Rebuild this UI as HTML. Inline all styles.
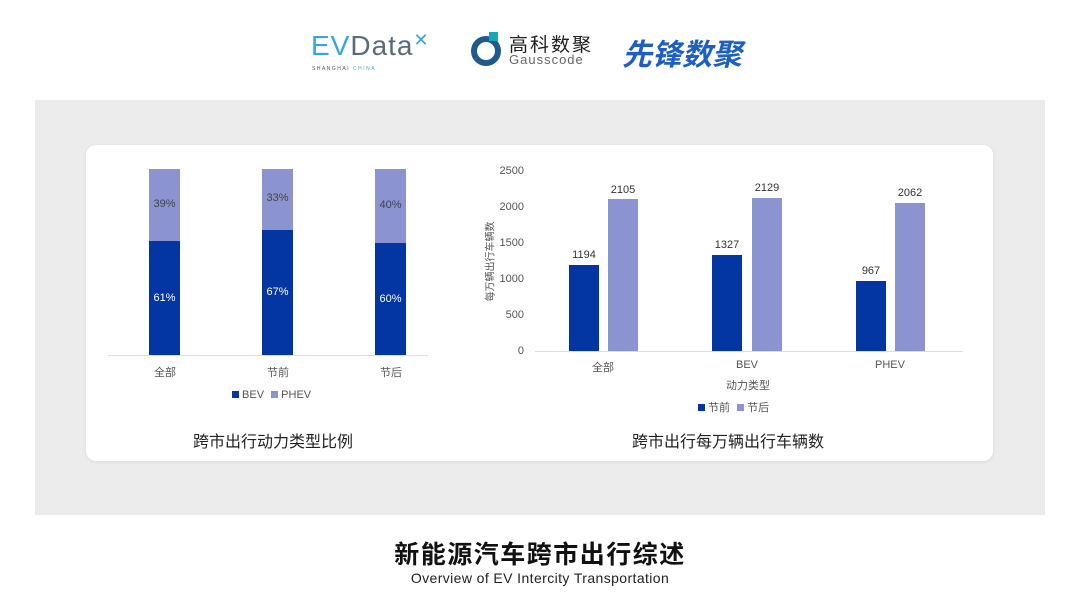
<!DOCTYPE html><html><head><meta charset="utf-8"><style>
body{margin:0;width:1080px;height:608px;background:#fff;font-family:"Liberation Sans","Noto Sans CJK SC",sans-serif;position:relative;overflow:hidden}
.a{position:absolute}
.t{position:absolute;font-size:11px;color:#555;white-space:nowrap}
</style></head><body>
<div class="a" style="left:311px;top:30px;font-size:28px;color:#5a6b7a;letter-spacing:1px"><span style="color:#3aa6d8">EV</span>Data<span style="color:#3aa6d8;font-size:18px;vertical-align:top">✕</span></div>
<div class="a" style="left:312px;top:66px;font-size:5px;color:#555;letter-spacing:1.5px">SHANGHAI <span style="color:#3aa6d8">CHINA</span></div>
<div class="a" style="left:471px;top:36px;width:30px;height:30px;border-radius:50%;border:6px solid #1e5a8c;box-sizing:border-box"></div>
<div class="a" style="left:489px;top:32px;width:9px;height:9px;background:#1aa6b7"></div>
<div class="a" style="left:509px;top:30px;font-size:19px;color:#222;letter-spacing:2px">高科数聚</div>
<div class="a" style="left:509px;top:52px;font-size:13px;color:#666;letter-spacing:1px">Gausscode</div>
<div class="a" style="left:622px;top:30px;font-size:30px;font-weight:bold;font-style:italic;color:#1e5fc0">先锋数聚</div>
<div class="a" style="left:35px;top:100px;width:1010px;height:415px;background:#ececec"></div>
<div class="a" style="left:86px;top:145px;width:907px;height:316px;background:#fff;border-radius:10px;box-shadow:0 1px 4px rgba(0,0,0,.08)"></div>
<!-- left chart -->
<div class="a" style="left:108px;top:355px;width:320px;height:1px;background:#ddd"></div>
<div class="a" style="left:149px;top:169px;width:31px;height:72px;background:#8b93d0"></div>
<div class="a" style="left:149px;top:241px;width:31px;height:114px;background:#0336a3"></div>
<div class="a" style="left:262px;top:169px;width:31px;height:61px;background:#8b93d0"></div>
<div class="a" style="left:262px;top:230px;width:31px;height:125px;background:#0336a3"></div>
<div class="a" style="left:375px;top:169px;width:31px;height:74px;background:#8b93d0"></div>
<div class="a" style="left:375px;top:243px;width:31px;height:112px;background:#0336a3"></div>
<div class="t" style="left:149px;width:31px;text-align:center;top:198px;color:#444">39%</div>
<div class="t" style="left:262px;width:31px;text-align:center;top:192px;color:#444">33%</div>
<div class="t" style="left:375px;width:31px;text-align:center;top:199px;color:#444">40%</div>
<div class="t" style="left:149px;width:31px;text-align:center;top:292px;color:#fff">61%</div>
<div class="t" style="left:262px;width:31px;text-align:center;top:286px;color:#fff">67%</div>
<div class="t" style="left:375px;width:31px;text-align:center;top:293px;color:#fff">60%</div>
<div class="t" style="left:145px;width:40px;text-align:center;top:364px">全部</div>
<div class="t" style="left:258px;width:40px;text-align:center;top:364px">节前</div>
<div class="t" style="left:371px;width:40px;text-align:center;top:364px">节后</div>
<div class="t" style="left:232px;top:389px"><span style="display:inline-block;width:7px;height:7px;background:#0336a3"></span> BEV <span style="display:inline-block;width:7px;height:7px;background:#8b93d0;margin-left:4px"></span> PHEV</div>
<div class="t" style="left:163px;width:220px;text-align:center;top:428px;font-size:16px;color:#222">跨市出行动力类型比例</div>
<!-- right chart -->
<div class="a" style="left:535px;top:351px;width:428px;height:1px;background:#ddd"></div>
<div class="t" style="left:490px;width:34px;text-align:right;top:165px">2500</div>
<div class="t" style="left:490px;width:34px;text-align:right;top:201px">2000</div>
<div class="t" style="left:490px;width:34px;text-align:right;top:237px">1500</div>
<div class="t" style="left:490px;width:34px;text-align:right;top:273px">1000</div>
<div class="t" style="left:490px;width:34px;text-align:right;top:309px">500</div>
<div class="t" style="left:490px;width:34px;text-align:right;top:345px">0</div>
<div class="t" style="left:439px;top:254px;width:100px;text-align:center;transform:rotate(-90deg);font-size:10px">每万辆出行车辆数</div>
<div class="a" style="left:569px;top:265px;width:30px;height:86px;background:#0336a3"></div>
<div class="a" style="left:608px;top:199px;width:30px;height:152px;background:#8b93d0"></div>
<div class="a" style="left:712px;top:255px;width:30px;height:96px;background:#0336a3"></div>
<div class="a" style="left:752px;top:198px;width:30px;height:153px;background:#8b93d0"></div>
<div class="a" style="left:856px;top:281px;width:30px;height:70px;background:#0336a3"></div>
<div class="a" style="left:895px;top:203px;width:30px;height:148px;background:#8b93d0"></div>
<div class="t" style="left:564px;width:40px;text-align:center;top:249px;color:#333">1194</div>
<div class="t" style="left:603px;width:40px;text-align:center;top:184px;color:#333">2105</div>
<div class="t" style="left:707px;width:40px;text-align:center;top:239px;color:#333">1327</div>
<div class="t" style="left:747px;width:40px;text-align:center;top:182px;color:#333">2129</div>
<div class="t" style="left:851px;width:40px;text-align:center;top:265px;color:#333">967</div>
<div class="t" style="left:890px;width:40px;text-align:center;top:187px;color:#333">2062</div>
<div class="t" style="left:583px;width:40px;text-align:center;top:359px">全部</div>
<div class="t" style="left:727px;width:40px;text-align:center;top:359px">BEV</div>
<div class="t" style="left:870px;width:40px;text-align:center;top:359px">PHEV</div>
<div class="t" style="left:708px;width:80px;text-align:center;top:377px">动力类型</div>
<div class="t" style="left:698px;top:399px"><span style="display:inline-block;width:7px;height:7px;background:#0336a3"></span> 节前 <span style="display:inline-block;width:7px;height:7px;background:#8b93d0;margin-left:4px"></span> 节后</div>
<div class="t" style="left:588px;width:280px;text-align:center;top:428px;font-size:16px;color:#222">跨市出行每万辆出行车辆数</div>
<div class="a" style="left:290px;width:500px;text-align:center;top:535px;font-size:25px;letter-spacing:1.5px;font-weight:bold;color:#111">新能源汽车跨市出行综述</div>
<div class="a" style="left:290px;width:500px;text-align:center;top:570px;font-size:14px;letter-spacing:0.4px;color:#222">Overview of EV Intercity Transportation</div>
</body></html>
